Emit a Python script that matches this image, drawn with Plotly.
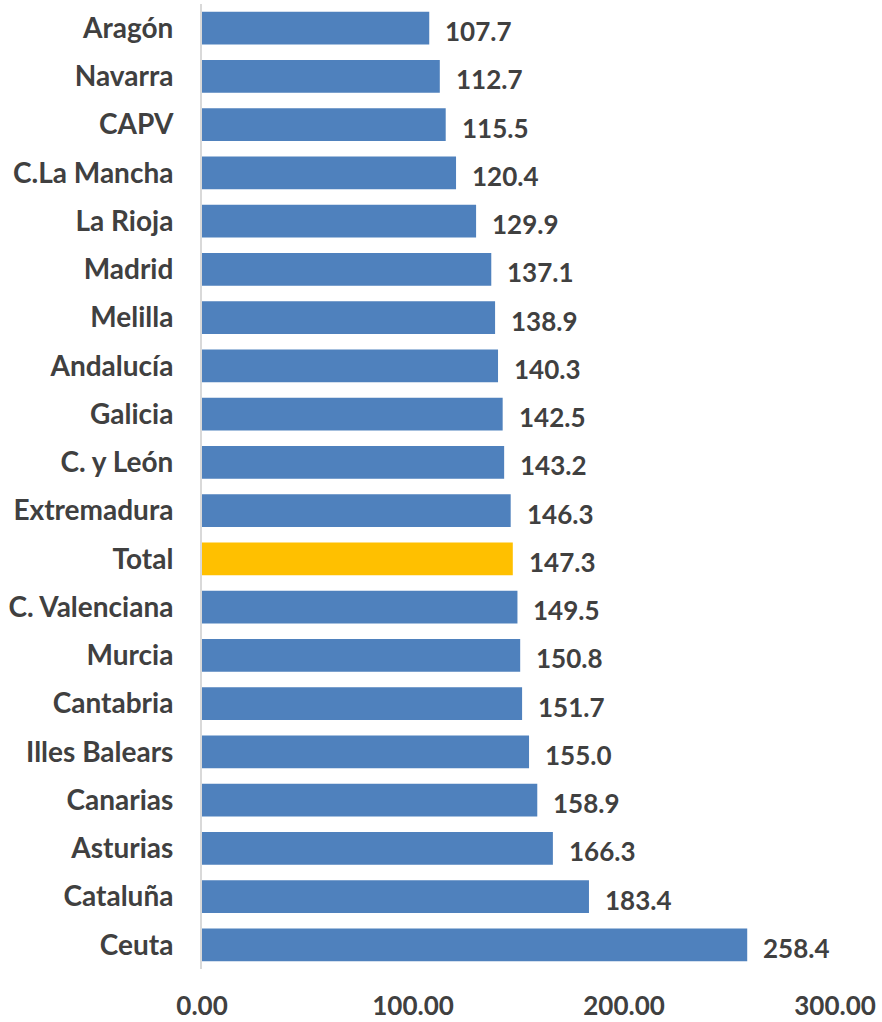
import plotly.graph_objects as go

categories = ["Aragón", "Navarra", "CAPV", "C.La Mancha", "La Rioja", "Madrid", "Melilla",
              "Andalucía", "Galicia", "C. y León", "Extremadura", "Total", "C. Valenciana",
              "Murcia", "Cantabria", "Illes Balears", "Canarias", "Asturias", "Cataluña", "Ceuta"]
values = [107.7, 112.7, 115.5, 120.4, 129.9, 137.1, 138.9, 140.3, 142.5, 143.2, 146.3, 147.3,
          149.5, 150.8, 151.7, 155.0, 158.9, 166.3, 183.4, 258.4]
tick_vals = [0, 100, 200, 300]
tick_text = ["0.00", "100.00", "200.00", "300.00"]

BLUE = "#4F81BD"
GOLD = "#FFC000"
TXT = "#404040"
FONT = "Lato"

colors = [GOLD if c == "Total" else BLUE for c in categories]

fig = go.Figure()
fig.add_trace(go.Bar(
    x=values, y=categories, orientation="h",
    marker=dict(color=colors, line=dict(width=0)),
    hoverinfo="x+y",
))

for c, v in zip(categories, values):
    fig.add_annotation(x=v, y=c, text=f"{v:.1f}", showarrow=False,
                       xanchor="left", yanchor="middle", xshift=14, yshift=-3,
                       font=dict(family=FONT, size=26, color=TXT, weight="bold"))

fig.update_layout(
    width=882, height=1022,
    margin=dict(l=202, r=47, t=4, b=53),
    paper_bgcolor="white", plot_bgcolor="white",
    showlegend=False,
    bargap=0.32,
    font=dict(family=FONT, color=TXT),
)
fig.update_xaxes(range=[0, 300], tickvals=tick_vals, ticktext=tick_text,
                 showgrid=False, zeroline=False, showline=False,
                 automargin=False,
                 ticklabelstandoff=19,
                 tickfont=dict(family=FONT, size=26, color=TXT, weight="bold"))
fig.update_yaxes(autorange="reversed", categoryorder="array", categoryarray=categories,
                 showgrid=False, zeroline=False, automargin=False,
                 showline=True, linecolor="#D9D9D9", linewidth=2,
                 ticklabelstandoff=21,
                 tickfont=dict(family=FONT, size=28, color=TXT, weight="bold"))

fig.write_html("out.html", config={"displayModeBar": False},
               post_script="document.body.style.margin='0';document.body.style.overflow='hidden';")
